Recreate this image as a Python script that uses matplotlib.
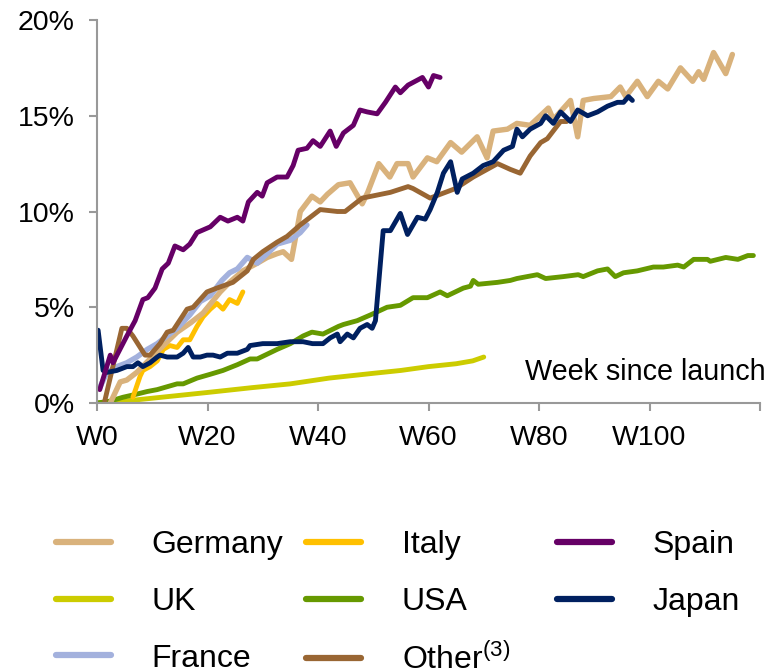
import matplotlib
matplotlib.use("Agg")
from matplotlib import pyplot as plt

plt.rcParams['font.family'] = ['Liberation Sans', 'DejaVu Sans']
plt.rcParams['mathtext.fontset'] = 'custom'
plt.rcParams['mathtext.rm'] = 'Liberation Sans'

# ---------------- data (week since launch, share in %) ----------------
germany_w = [2.4, 4.2, 5.4, 7.2, 9.6, 12, 14.5, 17, 19.2, 22.3, 24, 26.4, 29, 30.8, 32.6, 33.7,
             35.2, 36.8, 38.9, 40.4, 41.7, 43.7, 45.8, 48, 49, 51, 53, 54.3, 56.3, 57.2, 59.8,
             61.5, 64, 66, 68.8, 70.6, 71.7, 74.3, 76, 78.4, 81.7, 82.6, 85.7, 87, 88, 89.9, 93,
             94.7, 95.7, 97.8, 99.6, 101.6, 103.3, 105.6, 107.8, 108.9, 109.8, 111.6, 113.8, 115]
germany_v = [0, 1.1, 1.2, 1.6, 2.3, 3.0, 3.7, 4.2, 4.7, 5.8, 6.3, 6.9, 7.3, 7.6, 7.8, 7.9,
             7.5, 10.0, 10.8, 10.5, 10.9, 11.4, 11.5, 10.4, 11.0, 12.5, 11.8, 12.5, 12.5, 11.8, 12.8,
             12.6, 13.6, 13.1, 13.9, 12.8, 14.2, 14.3, 14.6, 14.5, 15.4, 14.8, 15.8, 13.9, 15.8, 15.9, 16.0,
             16.5, 16.0, 16.8, 16.0, 16.8, 16.4, 17.5, 16.8, 17.3, 16.9, 18.3, 17.2, 18.2]

italy_w = [6.5, 7.8, 8.3, 9.6, 10.9, 12, 13.2, 14.5, 15.6, 16.8, 18.1, 19.2, 20.5, 21.7, 22.8, 24, 25.4, 26.4]
italy_v = [0.3, 1.4, 1.7, 1.9, 2.2, 2.8, 3.0, 2.9, 3.3, 3.3, 4.0, 4.5, 4.9, 5.2, 4.9, 5.4, 5.2, 5.8]

spain_w = [0.5, 2.4, 2.9, 5.4, 6.9, 8.3, 9.2, 10.5, 11.8, 12.9, 14.1, 15.6, 16.8, 18.1, 20.5, 22.3,
           23.7, 25.4, 26.4, 27.4, 29, 29.9, 30.8, 32.6, 34.4, 35.5, 36.4, 38, 39.1, 40.4, 42.2, 43.3,
           44.6, 46.4, 47.6, 48.9, 50.7, 52.2, 54, 54.9, 56.3, 57.6, 58.9, 60, 60.9, 62.1]
spain_v = [0.7, 2.5, 2.1, 3.5, 4.3, 5.4, 5.5, 6.0, 7.0, 7.3, 8.2, 8.0, 8.3, 8.9, 9.2, 9.7,
           9.5, 9.7, 9.5, 10.5, 11.0, 10.8, 11.5, 11.8, 11.8, 12.4, 13.2, 13.3, 13.7, 13.4, 14.2, 13.4,
           14.1, 14.5, 15.3, 15.2, 15.1, 15.7, 16.5, 16.2, 16.6, 16.8, 17.0, 16.5, 17.1, 17.0]

uk_w = [0, 5, 10, 15, 20, 28, 35, 42, 50, 55, 60, 65, 68, 70]
uk_v = [0, 0.1, 0.25, 0.4, 0.55, 0.8, 1.0, 1.3, 1.55, 1.7, 1.9, 2.05, 2.2, 2.4]

usa_w = [0, 2.4, 4.7, 7, 9.1, 10.9, 12.7, 14.5, 15.6, 18.1, 20.5, 22.8, 25.4, 27.7, 29, 32.6, 35,
         37.3, 38.9, 40.9, 43.7, 44.6, 47.1, 49.5, 52.5, 54.9, 57.2, 59.8, 62.1, 63.4, 66.3, 67.6,
         68.1, 69, 72.5, 74.8, 76, 79.7, 81.2, 84.4, 87.1, 88, 90.6, 92.4, 93.8, 95.3, 97.8, 100.7,
         102.5, 105.1, 106.2, 108, 110.5, 111, 113.8, 116, 117.8, 118.8]
usa_v = [0, 0.1, 0.3, 0.45, 0.6, 0.7, 0.85, 1.0, 1.0, 1.3, 1.5, 1.7, 2.0, 2.3, 2.3, 2.8, 3.1,
         3.5, 3.7, 3.6, 4.0, 4.1, 4.3, 4.6, 5.0, 5.1, 5.5, 5.5, 5.8, 5.6, 6.0, 6.1,
         6.4, 6.2, 6.3, 6.4, 6.5, 6.7, 6.5, 6.6, 6.7, 6.6, 6.9, 7.0, 6.6, 6.8, 6.9, 7.1,
         7.1, 7.2, 7.1, 7.5, 7.5, 7.4, 7.6, 7.5, 7.7, 7.7]

japan_w = [0.2, 1.1, 1.8, 3.6, 5.4, 6.5, 7.4, 8.3, 9.6, 10.9, 11.4, 12.7, 14.5, 15.6, 16.5, 17.4,
           18.7, 19.9, 21, 22.3, 23.6, 25.4, 27.2, 27.7, 30, 32.6, 35, 37.3, 39, 40.9, 42.2, 43.5,
           44, 45.3, 46.4, 47.6, 48.9, 49.8, 50.4, 51.8, 53.1, 54.9, 56.2, 58, 59.4, 60.3, 61.6,
           62.7, 64, 65.2, 66.1, 68.1, 69.9, 71.7, 73.6, 75.2, 76, 77, 78.4, 80.3, 81.2, 82.6,
           83.9, 85.7, 87, 88.8, 90.6, 92.4, 94.2, 95.3, 96.2, 96.9]
japan_v = [3.8, 1.7, 1.6, 1.7, 1.9, 1.9, 2.1, 1.9, 2.1, 2.4, 2.5, 2.4, 2.4, 2.6, 2.9, 2.4,
           2.4, 2.5, 2.5, 2.4, 2.6, 2.6, 2.8, 3.0, 3.1, 3.1, 3.2, 3.2, 3.1, 3.1, 3.4, 3.6,
           3.2, 3.6, 3.4, 3.9, 4.1, 3.9, 4.3, 9.0, 9.0, 9.9, 8.8, 9.7, 9.6, 10.1, 11.0,
           12.0, 12.6, 11.0, 11.7, 12.0, 12.4, 12.6, 13.2, 13.4, 14.3, 13.9, 14.3, 14.6, 15.0, 14.6,
           15.2, 14.7, 15.3, 15.0, 15.2, 15.5, 15.7, 15.7, 16.0, 15.8]

france_w = [0.5, 1.8, 3.6, 5.4, 7.2, 9.1, 10.9, 12.7, 14.5, 16.8, 18.7, 20.5, 22.6, 24, 25.4,
            27.2, 29, 30.8, 32.6, 35, 36.8, 38]
france_v = [0.8, 1.6, 1.9, 2.1, 2.4, 2.8, 3.1, 3.5, 3.9, 4.6, 5.3, 5.6, 6.4, 6.8, 7.0,
            7.6, 7.3, 7.8, 8.3, 8.5, 8.9, 9.3]

other_w = [1.4, 4.5, 5.4, 6.5, 8.7, 9.6, 11.4, 12.7, 13.8, 16.3, 17.4, 19.9, 21.7, 24.6, 27.2,
           28.3, 30, 32.6, 34.4, 36.8, 38.6, 40.4, 43.5, 44.9, 48, 53.1, 56.3, 57.2, 60.3, 64.9,
           68.1, 72.5, 74.8, 76.6, 78.4, 80.3, 81.5, 83.9, 85]
other_v = [0.1, 3.9, 3.9, 3.5, 2.5, 2.5, 3.1, 3.7, 3.8, 4.9, 5.0, 5.8, 6.0, 6.3, 6.9,
           7.5, 7.9, 8.4, 8.7, 9.3, 9.7, 10.1, 10.0, 10.0, 10.7, 11.0, 11.3, 11.2, 10.7, 11.2,
           11.8, 12.5, 12.2, 12.0, 12.9, 13.6, 13.8, 14.7, 14.7]

tick_weeks = [0, 20, 40, 60, 80, 100, 120]
tick_labels = ["W0", "W20", "W40", "W60", "W80", "W100", ""]

# ---------------- figure ----------------
fig = plt.figure(figsize=(7.8, 6.7), dpi=100)
ax = fig.add_axes([97 / 780, 1 - 403 / 670, 663 / 780, 383 / 670])

LW = 3.5
line_kw = dict(solid_joinstyle='round', solid_capstyle='round')
l_uk, = ax.plot(uk_w, uk_v, color='#CCCC00', lw=LW, label='UK', **line_kw)
l_usa, = ax.plot(usa_w, usa_v, color='#669900', lw=LW, label='USA', **line_kw)
l_it, = ax.plot(italy_w, italy_v, color='#FFC000', lw=LW, label='Italy', **line_kw)
l_de, = ax.plot(germany_w, germany_v, color='#D9B27C', lw=3.9, label='Germany', **line_kw)
l_fr, = ax.plot(france_w, france_v, color='#A3B1DD', lw=3.9, label='France', **line_kw)
l_ot, = ax.plot(other_w, other_v, color='#996633', lw=LW, label='Other$^{(3)}$', **line_kw)
l_jp, = ax.plot(japan_w, japan_v, color='#002060', lw=LW, label='Japan', **line_kw)
l_es, = ax.plot(spain_w, spain_v, color='#660066', lw=LW, label='Spain', **line_kw)

ax.set_xlim(0, 120)
ax.set_ylim(0, 20)
ax.set_xticks(tick_weeks)
ax.set_xticklabels(tick_labels)
ax.set_yticks([0, 5, 10, 15, 20])
ax.set_yticklabels(["%d%%" % v for v in [0, 5, 10, 15, 20]])

for side in ['top', 'right']:
    ax.spines[side].set_visible(False)
for side in ['left', 'bottom']:
    ax.spines[side].set_color('#999999')
    ax.spines[side].set_linewidth(1.5)
ax.tick_params(axis='both', colors='#999999', labelcolor='black', labelsize=20.5, width=1.5, length=6)
ax.tick_params(axis='y', pad=10)
ax.tick_params(axis='x', pad=10)

ax.text(121, 1.6, "Week since launch", fontsize=20.7, ha='right', va='center', clip_on=False)

# legend: three columns placed separately
columns = [[l_de, l_uk, l_fr], [l_it, l_usa, l_ot], [l_es, l_jp]]
col_x = [56, 306, 557]
for hs, x in zip(columns, col_x):
    leg = fig.legend(handles=hs, loc='upper left', bbox_to_anchor=(x / 780, 1 - 530 / 670),
                     frameon=False, fontsize=23, handlelength=1.72, handletextpad=1.28,
                     borderpad=0, borderaxespad=0, labelspacing=0.84)
    for ln in leg.get_lines():
        ln.set_linewidth(4.5)

fig.savefig("out.png", dpi=100)
